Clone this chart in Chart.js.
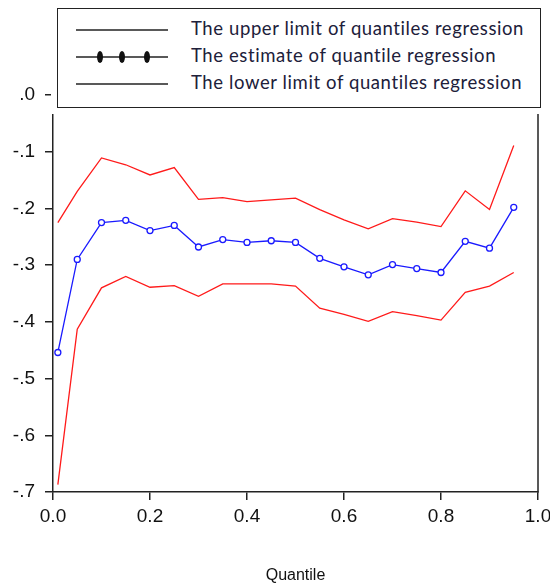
<!DOCTYPE html>
<html>
<head>
<meta charset="utf-8">
<script src="https://cdn.jsdelivr.net/npm/chart.js@4"></script>
<style>
  body { margin: 0; background: #fff; }
  #wrap { position: relative; width: 550px; height: 588px; }
  #legend {
    position: absolute; left: 57px; top: 8px; width: 482px; height: 98px;
    border: 1.5px solid #222; background: #fff; outline: 6px solid #fff;
    font-family: Lato, "Open Sans", sans-serif; font-size: 18.5px; letter-spacing: 0.6px; color: #20203a;
  }
  .row { position: absolute; left: 0; width: 100%; height: 24px; }
  .row svg { position: absolute; left: 18px; top: 0; }
  .row span { position: absolute; left: 133px; top: -1px; white-space: nowrap; }
</style>
</head>
<body>
<div id="wrap">
  <canvas id="grafico" width="550" height="588"></canvas>
  <div id="legend">
    <div class="row" style="top:9px">
      <svg width="96" height="24"><line x1="0" y1="12" x2="92" y2="12" stroke="#222" stroke-width="1.5"/></svg>
      <span>The upper limit of quantiles regression</span>
    </div>
    <div class="row" style="top:36px">
      <svg width="96" height="24"><line x1="0" y1="12" x2="92" y2="12" stroke="#222" stroke-width="1.5"/>
        <ellipse cx="24" cy="12" rx="3" ry="6" fill="#111"/>
        <ellipse cx="46" cy="12" rx="3" ry="6" fill="#111"/>
        <ellipse cx="71" cy="12" rx="3" ry="6" fill="#111"/></svg>
      <span>The estimate of quantile regression</span>
    </div>
    <div class="row" style="top:63px">
      <svg width="96" height="24"><line x1="0" y1="12" x2="92" y2="12" stroke="#222" stroke-width="1.5"/></svg>
      <span>The lower limit of quantiles regression</span>
    </div>
  </div>
</div>
<script>
const quantiles = [0.01, 0.05, 0.1, 0.15, 0.2, 0.25, 0.3, 0.35, 0.4, 0.45, 0.5, 0.55, 0.6, 0.65, 0.7, 0.75, 0.8, 0.85, 0.9, 0.95];
const upperLimit = [-0.225, -0.170, -0.111, -0.123, -0.141, -0.128, -0.184, -0.181, -0.188, -0.185, -0.182, -0.202, -0.220, -0.236, -0.218, -0.224, -0.232, -0.169, -0.202, -0.089];
const estimate = [-0.454, -0.290, -0.225, -0.221, -0.239, -0.230, -0.268, -0.255, -0.260, -0.257, -0.260, -0.288, -0.303, -0.317, -0.299, -0.306, -0.313, -0.258, -0.270, -0.198];
const lowerLimit = [-0.687, -0.413, -0.340, -0.320, -0.339, -0.336, -0.355, -0.333, -0.333, -0.333, -0.337, -0.376, -0.387, -0.399, -0.382, -0.389, -0.397, -0.348, -0.337, -0.313];

const xTicks = [0, 0.2, 0.4, 0.6, 0.8, 1.0];
const xTickLabels = ["0.0", "0.2", "0.4", "0.6", "0.8", "1.0"];
const yTicks = [-0.7, -0.6, -0.5, -0.4, -0.3, -0.2, -0.1, 0];
const yTickLabels = ["-.7", "-.6", "-.5", "-.4", "-.3", "-.2", "-.1", ".0"];

const pares = (ys) => quantiles.map((q, i) => ({ x: q, y: ys[i] }));
const fonteEixo = { family: "Liberation Sans", size: 19 };

// linha da borda direita do quadro
const bordaDireita = {
  id: "bordaDireita",
  afterDraw(chart) {
    const { ctx, chartArea } = chart;
    ctx.save();
    ctx.strokeStyle = "#222";
    ctx.lineWidth = 1.5;
    ctx.beginPath();
    ctx.moveTo(chartArea.right, chartArea.top);
    ctx.lineTo(chartArea.right, chartArea.bottom + 0.75);
    ctx.stroke();
    ctx.restore();
  },
};

new Chart(document.getElementById("grafico").getContext("2d"), {
  type: "line",
  data: {
    datasets: [
      { label: "upper", data: pares(upperLimit), borderColor: "#ff1a1a", borderWidth: 1.3, pointRadius: 0, fill: false, tension: 0 },
      { label: "estimate", data: pares(estimate), borderColor: "#1a1aff", borderWidth: 1.3,
        pointRadius: 3, pointBackgroundColor: "#fff", pointBorderColor: "#1a1aff", pointBorderWidth: 1.3, fill: false, tension: 0 },
      { label: "lower", data: pares(lowerLimit), borderColor: "#ff1a1a", borderWidth: 1.3, pointRadius: 0, fill: false, tension: 0 },
    ],
  },
  options: {
    responsive: false,
    animation: false,
    devicePixelRatio: 1,
    layout: { padding: { top: 95, right: 12, bottom: 0, left: 0 } },
    plugins: { legend: { display: false }, tooltip: { enabled: false } },
    scales: {
      x: {
        type: "linear", min: 0, max: 1,
        afterBuildTicks: (s) => { s.ticks = xTicks.map((v) => ({ value: v })); },
        afterFit: (s) => { s.height = 96; s.paddingRight = 0; s.paddingLeft = 0; },
        ticks: { callback: (v, i) => xTickLabels[i], font: fonteEixo, color: "#111", padding: 5, maxRotation: 0 },
        grid: { display: true, drawOnChartArea: false, drawTicks: true, tickLength: 8, color: "#222", lineWidth: 1.5 },
        border: { display: true, color: "#222", width: 1.5 },
        title: { display: true, text: "Quantile", font: { family: "Liberation Sans", size: 16 }, color: "#111", padding: { top: 0, bottom: 3 } },
      },
      y: {
        min: -0.7, max: 0,
        afterBuildTicks: (s) => { s.ticks = yTicks.map((v) => ({ value: v })); },
        afterFit: (s) => { s.width = 53; },
        ticks: { callback: (v, i) => yTickLabels[i], font: fonteEixo, color: "#111", padding: 10 },
        grid: { display: true, drawOnChartArea: false, drawTicks: true, tickLength: 8, color: "#222", lineWidth: 1.5 },
        border: { display: true, color: "#222", width: 1.5 },
      },
    },
  },
  plugins: [bordaDireita],
});
</script>
</body>
</html>
